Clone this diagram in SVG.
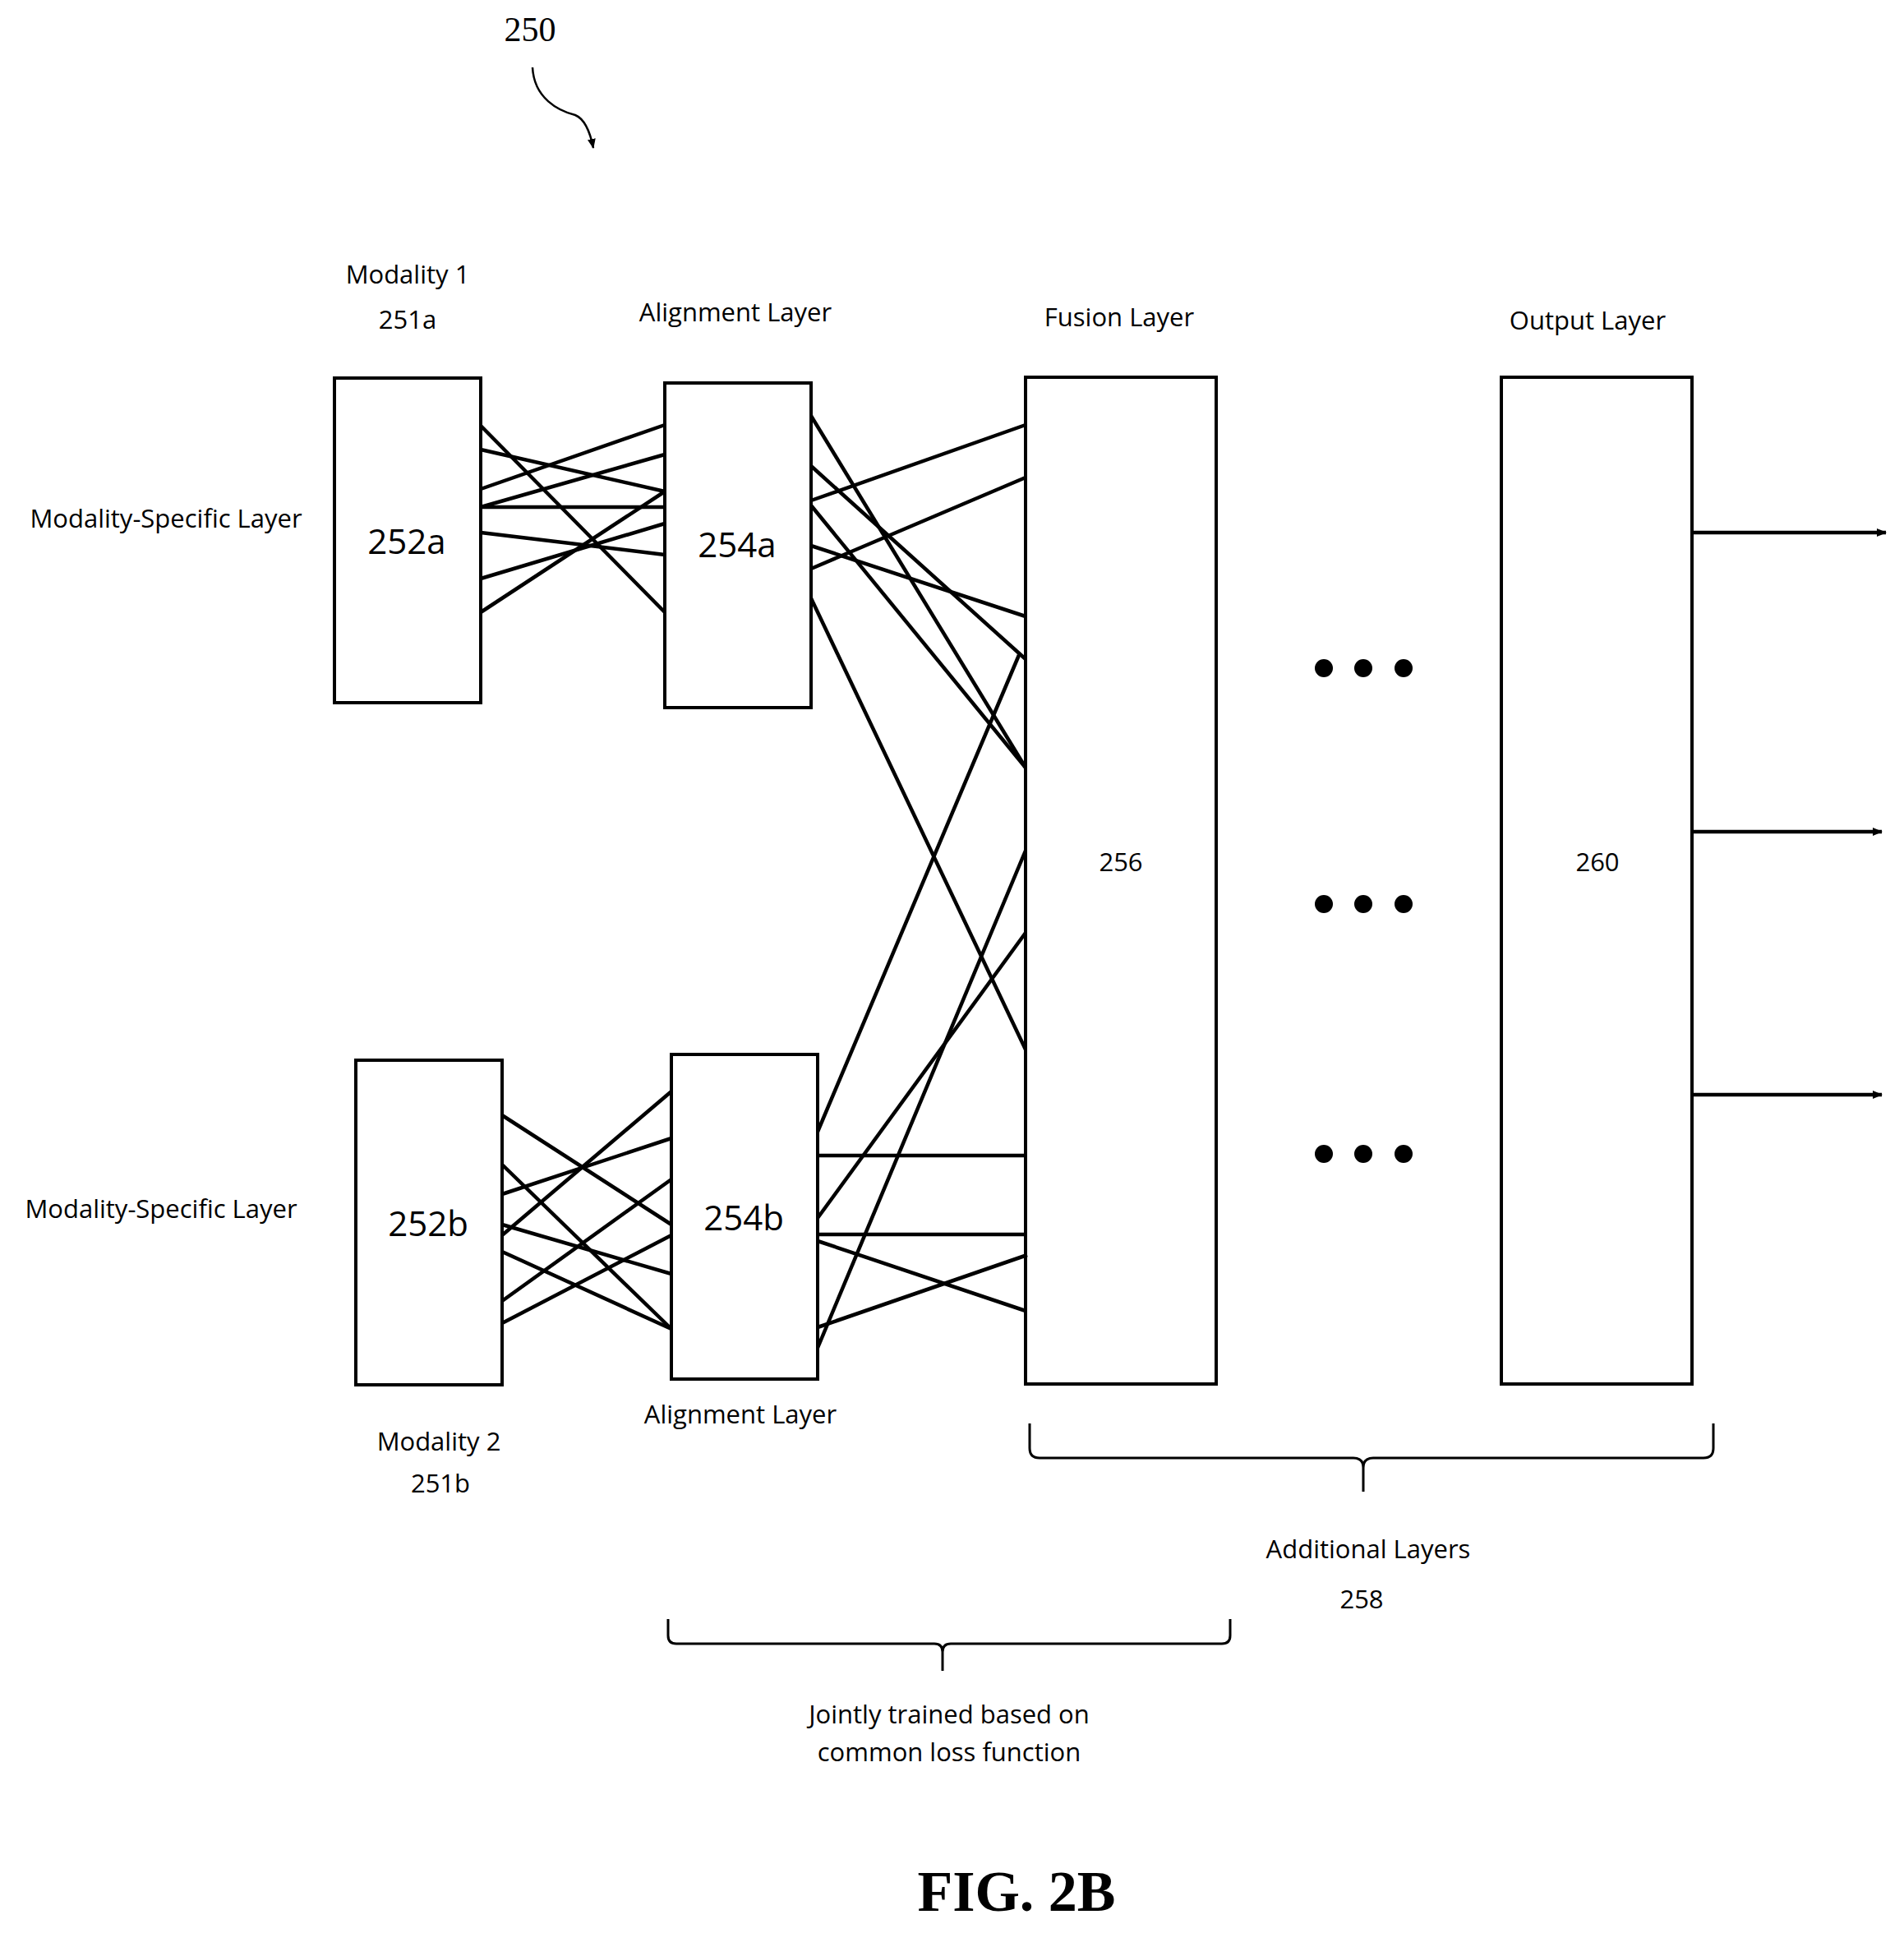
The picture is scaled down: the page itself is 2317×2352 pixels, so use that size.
<svg xmlns="http://www.w3.org/2000/svg" width="2317" height="2352" viewBox="0 0 2317 2352">
<style>
.b{fill:#fff;stroke:#000;stroke-width:4}
.c line{stroke:#000;stroke-width:4.5}
text{font-family:"Open Sans","Liberation Sans",sans-serif;fill:#000;text-anchor:middle}
.s{font-size:31px}
.m{font-size:42px}
.d{fill:#000}
</style>
<defs><marker id="a" markerWidth="12" markerHeight="10" refX="11" refY="5" orient="auto" markerUnits="userSpaceOnUse"><path d="M0,0 L12,5 L0,10Z" fill="#000"/></marker></defs>
<rect width="2317" height="2352" fill="#fff"/>
<g id="ref250"><text x="645" y="50" style="font-family:'Liberation Serif',serif;font-size:42px">250</text>
<path d="M648,82 C650,120 680,135 700,140 C712,145 718,160 722,180" fill="none" stroke="#000" stroke-width="2.5" marker-end="url(#a)"/></g>
<g id="labels">
<text class="s" x="496" y="345">Modality 1</text><text class="s" x="496" y="400">251a</text>
<text class="s" x="202" y="642">Modality-Specific Layer</text>
<text class="s" x="196" y="1482">Modality-Specific Layer</text>
<text class="s" x="895" y="391">Alignment Layer</text>
<text class="s" x="901" y="1732">Alignment Layer</text>
<text class="s" x="1362" y="397">Fusion Layer</text>
<text class="s" x="1932" y="401">Output Layer</text>
<text class="s" x="534" y="1765">Modality 2</text><text class="s" x="536" y="1816">251b</text>
</g>
<g id="n252a"><rect class="b" x="407" y="460" width="178" height="395"/><text class="m" x="495" y="674">252a</text></g>
<g id="n254a"><rect class="b" x="809" y="466" width="178" height="395"/><text class="m" x="897" y="678">254a</text></g>
<g id="n252b"><rect class="b" x="433" y="1290" width="178" height="395"/><text class="m" x="521" y="1504">252b</text></g>
<g id="n254b"><rect class="b" x="817" y="1283" width="178" height="395"/><text class="m" x="905" y="1497">254b</text></g>
<g id="n256"><rect class="b" x="1248" y="459" width="232" height="1225"/><text class="s" x="1364" y="1060">256</text></g>
<g id="n260"><rect class="b" x="1827" y="459" width="232" height="1225"/><text class="s" x="1944" y="1060">260</text></g>
<g id="connectors" class="c">
<line x1="585" y1="518" x2="809" y2="745"/>
<line x1="585" y1="547" x2="809" y2="598"/>
<line x1="585" y1="595" x2="809" y2="517"/>
<line x1="585" y1="617" x2="809" y2="553"/>
<line x1="585" y1="617" x2="809" y2="617"/>
<line x1="585" y1="648" x2="809" y2="675"/>
<line x1="585" y1="704" x2="809" y2="637"/>
<line x1="585" y1="745" x2="809" y2="598"/>
<line x1="987" y1="506" x2="1248" y2="934"/>
<line x1="987" y1="567" x2="1248" y2="802"/>
<line x1="987" y1="609" x2="1248" y2="517"/>
<line x1="987" y1="615" x2="1248" y2="934"/>
<line x1="987" y1="664" x2="1248" y2="750"/>
<line x1="987" y1="692" x2="1248" y2="581"/>
<line x1="987" y1="728" x2="1248" y2="1277"/>
<line x1="611" y1="1357" x2="817" y2="1490"/>
<line x1="611" y1="1417" x2="817" y2="1617"/>
<line x1="611" y1="1453" x2="817" y2="1385"/>
<line x1="611" y1="1503" x2="817" y2="1328"/>
<line x1="611" y1="1490" x2="817" y2="1550"/>
<line x1="611" y1="1523" x2="817" y2="1617"/>
<line x1="611" y1="1583" x2="817" y2="1435"/>
<line x1="611" y1="1610" x2="817" y2="1503"/>
<line x1="995" y1="1377" x2="1240" y2="797"/>
<line x1="995" y1="1406" x2="1248" y2="1406"/>
<line x1="995" y1="1482" x2="1248" y2="1135"/>
<line x1="995" y1="1502" x2="1248" y2="1502"/>
<line x1="995" y1="1510" x2="1248" y2="1595"/>
<line x1="995" y1="1615" x2="1250" y2="1527"/>
<line x1="995" y1="1640" x2="1248" y2="1035"/>
<line x1="2059" y1="648" x2="2295" y2="648" marker-end="url(#a)"/>
<line x1="2059" y1="1012" x2="2290" y2="1012" marker-end="url(#a)"/>
<line x1="2059" y1="1332" x2="2290" y2="1332" marker-end="url(#a)"/>
</g>
<g id="dots" class="d">
<circle cx="1611" cy="813" r="11"/><circle cx="1659" cy="813" r="11"/><circle cx="1708" cy="813" r="11"/>
<circle cx="1611" cy="1100" r="11"/><circle cx="1659" cy="1100" r="11"/><circle cx="1708" cy="1100" r="11"/>
<circle cx="1611" cy="1404" r="11"/><circle cx="1659" cy="1404" r="11"/><circle cx="1708" cy="1404" r="11"/>
</g>
<g id="brace258">
<path d="M1253,1732 V1762 Q1253,1774 1265,1774 H1647 Q1659,1774 1659,1786 V1815 M1659,1786 Q1659,1774 1671,1774 H2073 Q2085,1774 2085,1762 V1732" fill="none" stroke="#000" stroke-width="3"/>
<text class="s" x="1665" y="1896">Additional Layers</text><text class="s" x="1657" y="1957">258</text>
</g>
<g id="braceJoint">
<path d="M813,1970 V1990 Q813,2000 823,2000 H1137 Q1147,2000 1147,2010 V2033 M1147,2010 Q1147,2000 1157,2000 H1487 Q1497,2000 1497,1990 V1970" fill="none" stroke="#000" stroke-width="3"/>
<text class="s" x="1155" y="2097">Jointly trained based on</text><text class="s" x="1155" y="2143">common loss function</text>
</g>
<text x="1237" y="2325" style="font-family:'Liberation Serif',serif;font-weight:bold;font-size:70px">FIG. 2B</text>
</svg>
